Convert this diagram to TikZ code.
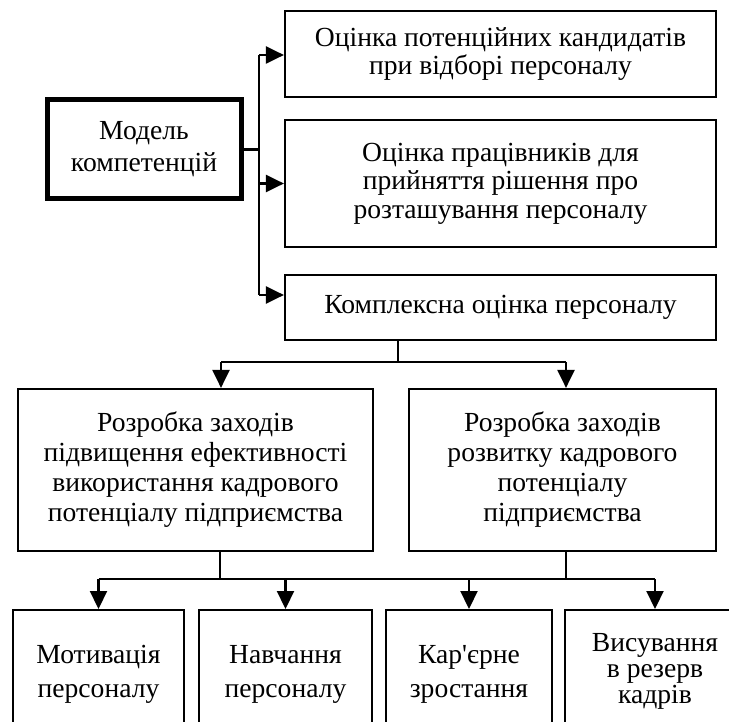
\documentclass[tikz,border=0pt]{standalone}
\usepackage{fontspec}
\setmainfont{Liberation Serif}[Ligatures=TeXOff]
\usetikzlibrary{arrows.meta}
\begin{document}
\begin{tikzpicture}[x=0.5pt,y=-0.5pt,
  box/.style={draw,line width=1.1pt,rectangle,inner sep=0pt,align=center,font=\fontsize{13.8}{15}\selectfont},
  btm/.style={box,anchor=north,inner ysep=0pt,text depth=40pt},
  arr/.style={line width=1.1pt,-{Triangle[length=9pt,width=8.5pt]}},
  ln/.style={line width=1.1pt}]
\clip (0,0) rectangle (729,722);
\fill[white] (0,0) rectangle (729,722);
% top boxes
\node[box,line width=2.5pt,minimum width=97pt,minimum height=49.5pt,font=\fontsize{13.8}{16}\selectfont] (model) at (144,149.5) {Модель\\компетенцій};
\node[box,minimum width=215.5pt,minimum height=43pt,font=\fontsize{13.8}{14}\selectfont] (b1) at (500.5,54) {Оцінка потенційних кандидатів\\при відборі персоналу};
\node[box,minimum width=215.5pt,minimum height=63.5pt,font=\fontsize{13.8}{14.2}\selectfont] (b2) at (500.5,183.5) {Оцінка працівників для\\прийняття рішення про\\розташування персоналу};
\node[box,minimum width=215.5pt,minimum height=32.5pt] (b3) at (500.5,307.5) {Комплексна оцінка персоналу};
% middle boxes
\node[box,minimum width=177.5pt,minimum height=81pt] (m1) at (195.5,470) {Розробка заходів\\підвищення ефективності\\використання кадрового\\потенціалу підприємства};
\node[box,minimum width=153.5pt,minimum height=81pt] (m2) at (562.5,470) {Розробка заходів\\розвитку кадрового\\потенціалу\\підприємства};
% bottom boxes
\node[btm,minimum width=85.5pt,text height=43.5pt,font=\fontsize{13.8}{17}\selectfont] (l1) at (98.5,609) {Мотивація\\персоналу};
\node[btm,minimum width=86.5pt,text height=43.5pt,font=\fontsize{13.8}{17}\selectfont] (l2) at (285.5,609) {Навчання\\персоналу};
\node[btm,minimum width=83pt,text height=43.5pt,font=\fontsize{13.8}{17}\selectfont] (l3) at (469,609) {Кар'єрне\\зростання};
\node[btm,minimum width=90pt,text height=46.5pt,font=\fontsize{13.8}{13}\selectfont] (l4) at (655,609) {Висування\\в резерв\\кадрів};
% connectors from model
\coordinate (spT) at (259,55);
\coordinate (spB) at (259,295);
\draw[ln] (model.east) -- (model.east -| spT);
\draw[ln] (spT) -- (spB);
\draw[arr] (spT) -- (spT -| b1.west);
\draw[arr] (spT |- b2.west) -- (b2.west);
\draw[arr] (spB) -- (spB -| b3.west);
% from b3 to middle
\coordinate (h1) at (398,362);
\coordinate (a1) at (221,362);
\coordinate (a2) at (566,362);
\draw[ln] (h1 |- b3.south) -- (h1);
\draw[ln] (a1) -- (a2);
\draw[arr] (a1) -- (a1 |- m1.north);
\draw[arr] (a2) -- (a2 |- m2.north);
% from middle to bottom
\coordinate (s1) at (220,579);
\coordinate (s2) at (566,579);
\coordinate (hb) at (98.5,579);
\draw[ln] (s1 |- m1.south) -- (s1);
\draw[ln] (s2 |- m2.south) -- (s2);
\draw[ln] (hb) -- (hb -| l4.north);
\draw[arr] (l1.north |- hb) -- (l1.north);
\draw[arr] (l2.north |- hb) -- (l2.north);
\draw[arr] (l3.north |- hb) -- (l3.north);
\draw[arr] (l4.north |- hb) -- (l4.north);
\end{tikzpicture}
\end{document}
